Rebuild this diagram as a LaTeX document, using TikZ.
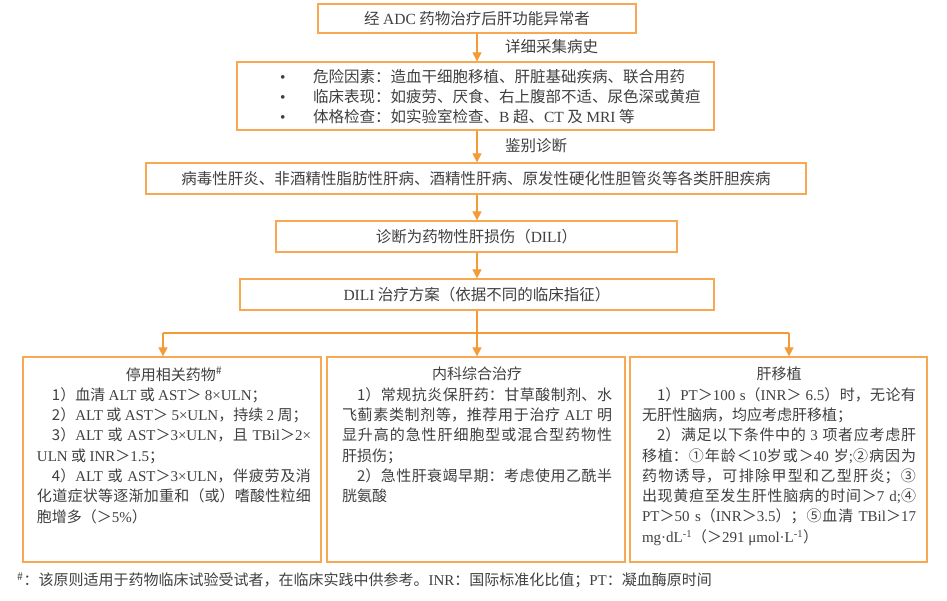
\documentclass[tikz,border=0pt]{standalone}
\usepackage{fontspec}
\setmainfont{Noto Sans CJK SC}
\newfontfamily\latinfont{Liberation Serif}
\usetikzlibrary{arrows.meta}
\XeTeXlinebreaklocale "zh"
\XeTeXlinebreakskip=0pt plus 1pt minus 0.4pt
\tolerance=9999
\hbadness=10000
\hfuzz=20pt
\definecolor{boxc}{HTML}{F7A850}
\definecolor{arrc}{HTML}{F59B35}
\definecolor{txtc}{HTML}{404040}
\newcommand\TNR[1]{{\latinfont #1}}
\newcommand\myind{\hspace*{1em}}
\begin{document}
\begin{tikzpicture}[x=1bp,y=-1bp,
  box/.style={draw=boxc,line width=1.3bp,inner sep=0pt,text=txtc,font=\fontsize{15.5bp}{20bp}\selectfont},
  arr/.style={draw=arrc,line width=1.2bp,-{Triangle[width=9bp,length=9bp]}},
  ln/.style={draw=arrc,line width=1.2bp},
  lbl/.style={text=txtc,font=\fontsize{15.5bp}{20bp}\selectfont,inner sep=0pt,anchor=west},
  body/.style={text=txtc,font={\fontsize{15bp}{20.3bp}\selectfont\parindent=0pt},inner sep=0pt,anchor=north,align=justify}
]
\path[fill=white] (0,0) rectangle (947,601);
\useasboundingbox (0,0) rectangle (947,601);

\node[box,minimum width=318bp,minimum height=29bp] (top) at (477,18.5) {经 \TNR{ADC} 药物治疗后肝功能异常者};
\node[box,minimum width=477bp,minimum height=68bp] (hist) at (475.5,96) {};
\node[lbl,align=left] (histtxt) at (280,97) {\makebox[33bp][l]{\TNR{•}}危险因素：造血干细胞移植、肝脏基础疾病、联合用药\\
\makebox[33bp][l]{\TNR{•}}临床表现：如疲劳、厌食、右上腹部不适、尿色深或黄疸\\
\makebox[33bp][l]{\TNR{•}}体格检查：如实验室检查、\TNR{B} 超、\TNR{CT} 及 \TNR{MRI} 等};
\node[box,minimum width=660bp,minimum height=31bp] (diff) at (476,178.5) {病毒性肝炎、非酒精性脂肪性肝病、酒精性肝病、原发性硬化性胆管炎等各类肝胆疾病};
\node[box,minimum width=401bp,minimum height=31bp] (dili) at (476.5,236.5) {诊断为药物性肝损伤（\TNR{DILI}）};
\node[box,minimum width=474bp,minimum height=31bp] (plan) at (477,294.5) {\TNR{DILI} 治疗方案（依据不同的临床指征）};

\node[lbl] (lab1) at (505,47) {详细采集病史};
\node[lbl] (lab2) at (505,146) {鉴别诊断};

\draw[arr] (top.south) -- (top.south |- hist.north);
\draw[arr] (top.south |- hist.south) -- (top.south |- diff.north);
\draw[arr] (top.south |- diff.south) -- (top.south |- dili.north);
\draw[arr] (top.south |- dili.south) -- (top.south |- plan.north);

\node[box,minimum width=298bp,minimum height=205bp] (lbox) at (172,459.5) {};
\node[box,minimum width=298bp,minimum height=205bp] (mbox) at (476,459.5) {};
\node[box,minimum width=297bp,minimum height=205bp] (rbox) at (778.5,459.5) {};

\coordinate (bus) at (477,333);
\coordinate (busL) at (163,333);
\coordinate (busR) at (789,333);
\draw[ln] (plan.south) -- (bus);
\draw[ln] (busL) -- (busR);
\draw[arr] (busL) -- (busL |- lbox.north);
\draw[arr] (bus) -- (bus |- mbox.north);
\draw[arr] (busR) -- (busR |- rbox.north);

\node[body,text width=274bp] (ltxt) at (174,367) {{\centering 停用相关药物\textsuperscript{\#}\par}
\myind 1）血清 \TNR{ALT} 或 \TNR{AST}＞ \TNR{8×ULN}；\par
\myind 2）\TNR{ALT} 或 \TNR{AST}＞ \TNR{5×ULN}，持续 \TNR{2} 周；\par
\myind 3）\TNR{ALT} 或 \TNR{AST}＞\TNR{3×ULN}，且 \TNR{TBil}＞\TNR{2×}\linebreak \TNR{ULN} 或 \TNR{INR}＞\TNR{1.5}；\par
\myind 4）\TNR{ALT} 或 \TNR{AST}＞\TNR{3×ULN}，伴疲劳及消\linebreak 化道症状等逐渐加重和（或）嗜酸性粒细\linebreak 胞增多（＞\TNR{5\%}）\par};

\node[body,text width=270bp] (mtxt) at (477,367) {{\centering 内科综合治疗\par}
\myind 1）常规抗炎保肝药：甘草酸制剂、水\linebreak 飞蓟素类制剂等，推荐用于治疗 \TNR{ALT} 明\linebreak 显升高的急性肝细胞型或混合型药物性\linebreak 肝损伤；\par
\myind 2）急性肝衰竭早期：考虑使用乙酰半\linebreak 胱氨酸\par};

\node[body,text width=274bp] (rtxt) at (779,367) {{\centering 肝移植\par}
\myind 1）\TNR{PT}＞\TNR{100 s}（\TNR{INR}＞ \TNR{6.5}）时，无论有\linebreak 无肝性脑病，均应考虑肝移植；\par
\myind 2）满足以下条件中的 \TNR{3} 项者应考虑肝\linebreak 移植：①年龄＜\TNR{10}岁或＞\TNR{40} 岁\TNR{;}②病因为\linebreak 药物诱导，可排除甲型和乙型肝炎；③\linebreak 出现黄疸至发生肝性脑病的时间＞\TNR{7 d;}④\linebreak \TNR{PT}＞\TNR{50 s}（\TNR{INR}＞\TNR{3.5}）；⑤血清 \TNR{TBil}＞\TNR{17}\linebreak \TNR{mg·dL\textsuperscript{-1}}（＞\TNR{291 μmol·L\textsuperscript{-1}}）\par};

\node[lbl,font=\fontsize{15bp}{18bp}\selectfont] (fn) at (17,580) {\textsuperscript{\#}：该原则适用于药物临床试验受试者，在临床实践中供参考。\TNR{INR}：国际标准化比值；\TNR{PT}：凝血酶原时间};
\end{tikzpicture}
\end{document}
